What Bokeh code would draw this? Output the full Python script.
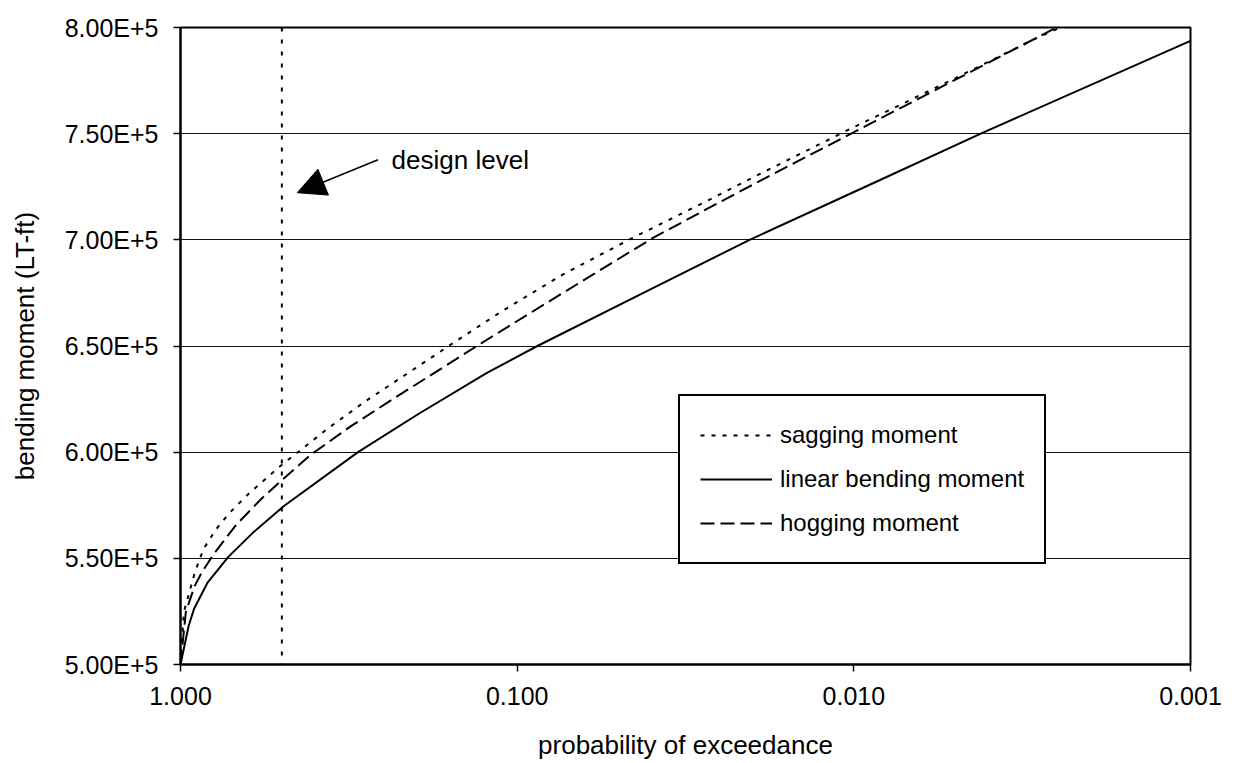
from bokeh.plotting import figure
from bokeh.models import (Range1d, FixedTicker, Span, Arrow, NormalHead, Label,
                          Legend, LegendItem)
from bokeh.embed import file_html
from bokeh.resources import INLINE

# ---------------- data ----------------
sagging_p = [1.0, 0.977, 0.906, 0.855, 0.785, 0.717, 0.623, 0.505, 0.364, 0.281,
             0.213, 0.158, 0.112, 0.0735, 0.0462, 0.0273, 0.0197, 0.0106, 0.0054,
             0.0029, 0.0024]
sagging_m = [500000, 524800, 543500, 554300, 563600, 571200, 580900, 593500, 611300,
             624200, 636800, 650500, 666000, 683500, 700300, 718300, 729800, 751100,
             773500, 794600, 800500]

linear_p = [1.0, 0.946, 0.912, 0.830, 0.721, 0.610, 0.494, 0.297, 0.196, 0.123,
            0.0871, 0.0398, 0.0204, 0.00887, 0.00415, 0.001]
linear_m = [500000, 518100, 526100, 538700, 550700, 562000, 574500, 600000, 618100,
            637300, 650000, 677000, 700000, 726300, 750400, 793700]

hogging_p = [1.0, 0.964, 0.908, 0.864, 0.799, 0.684, 0.574, 0.499, 0.410, 0.310,
             0.235, 0.186, 0.1257, 0.0926, 0.0598, 0.0395, 0.0248, 0.0157, 0.0071,
             0.0045, 0.0025]
hogging_m = [500000, 524800, 536900, 543400, 551800, 565700, 578200, 586900, 598800,
             612500, 624800, 635000, 652000, 665000, 683500, 700900, 718100, 734600,
             762900, 779100, 800000]

series_labels = ["sagging moment", "linear bending moment", "hogging moment"]

x_ticks = [1.0, 0.1, 0.01, 0.001]
x_tick_labels = ["1.000", "0.100", "0.010", "0.001"]
y_ticks = [500000, 550000, 600000, 650000, 700000, 750000, 800000]
y_tick_labels = ["5.00E+5", "5.50E+5", "6.00E+5", "6.50E+5", "7.00E+5", "7.50E+5", "8.00E+5"]

design_p = 0.5
design_text = "design level"
arrow_start = (0.259, 737700)
arrow_end = (0.45, 722200)
label_pos = (0.236, 737700)

FONT = "Liberation Sans"

# ---------------- figure ----------------
p = figure(x_axis_type="log", x_range=Range1d(1.0, 0.001), y_range=Range1d(500000, 800000),
           frame_width=1010, frame_height=637,
           min_border_left=180, min_border_right=38, min_border_top=27, min_border_bottom=86,
           output_backend="svg", toolbar_location=None,
           background_fill_color="white", border_fill_color="white")

p.outline_line_color = "black"
p.outline_line_width = 2
p.outline_line_alpha = 1.0
p.xgrid.visible = False
p.ygrid.grid_line_color = "#111111"
p.ygrid.grid_line_width = 1
p.ygrid.ticker = FixedTicker(ticks=y_ticks)

# axes
p.xaxis.ticker = FixedTicker(ticks=x_ticks, minor_ticks=[])
p.xaxis.major_label_overrides = dict(zip(x_ticks, x_tick_labels))
p.yaxis.ticker = FixedTicker(ticks=y_ticks, minor_ticks=[])
p.yaxis.major_label_overrides = dict(zip(y_ticks, y_tick_labels))

for ax in (p.xaxis[0], p.yaxis[0]):
    ax.axis_line_color = "black"
    ax.axis_line_width = 2
    ax.major_tick_line_color = "black"
    ax.major_tick_line_width = 1.5
    ax.major_tick_out = 7
    ax.major_tick_in = 0
    ax.minor_tick_line_color = None
    ax.major_label_text_font = FONT
    ax.major_label_text_font_size = "25px"
    ax.major_label_text_color = "black"
    ax.major_label_standoff = 15
    ax.axis_label_text_font = FONT
    ax.axis_label_text_font_size = "26px"
    ax.axis_label_text_font_style = "normal"
    ax.axis_label_text_color = "black"

p.xaxis.axis_label = "probability of exceedance"
p.xaxis.axis_label_standoff = 22
p.yaxis.axis_label = "bending moment (LT-ft)"
p.yaxis.axis_label_standoff = 22

# design level line
p.add_layout(Span(location=design_p, dimension="height", line_color="black",
                  line_width=2, line_dash="4 8"))

# curves
r_sag = p.line(sagging_p, sagging_m, line_color="black", line_width=2, line_dash="4 7")
r_lin = p.line(linear_p, linear_m, line_color="black", line_width=2)
r_hog = p.line(hogging_p, hogging_m, line_color="black", line_width=2, line_dash="14 6")

legend = Legend(items=[LegendItem(label=series_labels[0], renderers=[r_sag]),
                       LegendItem(label=series_labels[1], renderers=[r_lin]),
                       LegendItem(label=series_labels[2], renderers=[r_hog])],
                location=(498, 100), orientation="vertical",
                border_line_color="black", border_line_width=2, border_line_alpha=1.0,
                background_fill_color="white", background_fill_alpha=1.0,
                label_text_font=FONT, label_text_font_size="24px",
                label_text_color="black",
                glyph_width=72, glyph_height=38, label_height=38,
                label_standoff=8, spacing=6, padding=20, margin=0)
p.add_layout(legend, "center")

# annotation
p.add_layout(Arrow(end=NormalHead(size=28, fill_color="black", line_color="black"),
                   x_start=arrow_start[0], y_start=arrow_start[1],
                   x_end=arrow_end[0], y_end=arrow_end[1],
                   line_color="black", line_width=1.5))
p.add_layout(Label(x=label_pos[0], y=label_pos[1], text=design_text,
                   text_font=FONT, text_font_size="26px", text_color="black",
                   text_baseline="middle", text_align="left"))

open("out.html", "w").write(file_html(p, INLINE))
